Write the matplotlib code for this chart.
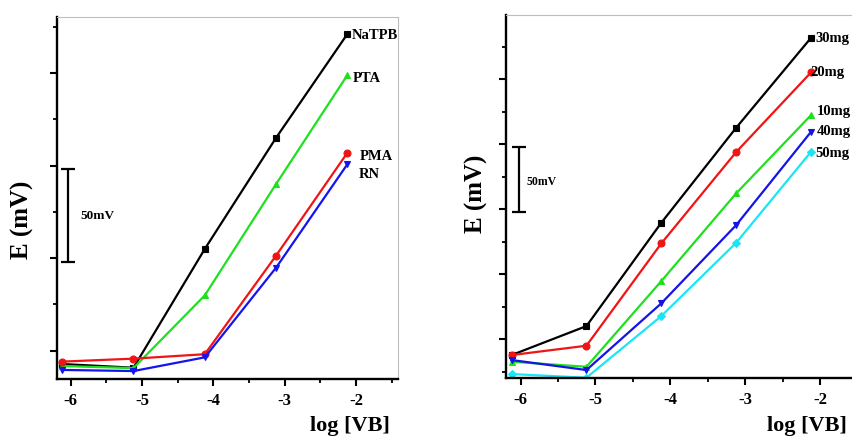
import matplotlib
matplotlib.use("Agg")
import matplotlib.pyplot as plt
from matplotlib.ticker import MultipleLocator, NullFormatter

# log [VB] concentration steps
log_vb = [-6.12, -5.12, -4.12, -3.12, -2.12]

# Left panel: electrodes with different ion exchangers (relative E, mV)
ion_names = ["NaTPB", "PTA", "PMA", "RN"]
e_natpb = [-7.2, -9.2, 55.0, 115.1, 171.2]
e_pta = [-8.3, -9.4, 29.9, 90.1, 149.0]
e_pma = [-5.9, -4.3, -1.9, 51.4, 107.0]
e_rn = [-10.4, -11.0, -3.6, 44.9, 100.8]

# Right panel: different ionophore loadings (relative E, mV)
load_names = ["30mg", "20mg", "10mg", "40mg", "50mg"]
e_30mg = [-12.1, 10.2, 89.7, 162.8, 232.0]
e_20mg = [-12.1, -4.9, 73.8, 144.1, 205.4]
e_10mg = [-17.2, -21.1, 44.8, 112.3, 172.5]
e_40mg = [-15.9, -23.6, 27.7, 87.9, 159.7]
e_50mg = [-26.7, -29.5, 17.9, 74.3, 144.3]

xtick_vals = [-6, -5, -4, -3, -2]
xtick_labels = ["-6", "-5", "-4", "-3", "-2"]
scale_mv = 50

W, H = 852, 438
fig = plt.figure(figsize=(W / 100, H / 100), dpi=100)
SERIF = "Liberation Serif"


def frac_box(x0, x1, ytop, ybot):
    return [x0 / W, 1 - ybot / H, (x1 - x0) / W, (ybot - ytop) / H]


def style_axes(ax):
    for side in ("left", "bottom"):
        ax.spines[side].set_linewidth(1.7)
        ax.spines[side].set_color("black")
    for side in ("top", "right"):
        ax.spines[side].set_linewidth(0.8)
        ax.spines[side].set_color("#bdbdbd")
    ax.xaxis.set_major_locator(MultipleLocator(1))
    ax.xaxis.set_minor_locator(MultipleLocator(0.5))
    ax.yaxis.set_major_locator(MultipleLocator(50))
    ax.yaxis.set_minor_locator(MultipleLocator(25))
    ax.set_xticks(xtick_vals)
    ax.set_xticklabels(xtick_labels)
    ax.yaxis.set_major_formatter(NullFormatter())
    ax.tick_params(which="major", direction="out", length=5, width=1.5,
                   top=False, right=False, pad=5)
    ax.tick_params(which="minor", direction="out", length=3, width=1.3,
                   top=False, right=False)
    for lab in ax.get_xticklabels():
        lab.set_fontfamily(SERIF)
        lab.set_fontweight("bold")
        lab.set_fontsize(12)


def labels(ax, box_px, xl_px, yl_px):
    x0, x1, yt, yb = box_px
    ax.set_xlabel("log [VB]", fontfamily=SERIF, fontweight="bold",
                  fontsize=16, va="center")
    ax.xaxis.set_label_coords((xl_px[0] - x0) / (x1 - x0),
                              (yb - xl_px[1]) / (yb - yt))
    ax.set_ylabel("E (mV)", fontfamily=SERIF, fontweight="bold",
                  fontsize=18, va="center")
    ax.yaxis.set_label_coords((yl_px[0] - x0) / (x1 - x0),
                              (yb - yl_px[1]) / (yb - yt))


def scale_bar(ax, x, y0, tx, ty, fs):
    ax.errorbar([x], [y0 + scale_mv / 2], yerr=[[scale_mv / 2], [scale_mv / 2]],
                fmt="none", ecolor="black", elinewidth=1.6, capsize=5,
                capthick=1.6)
    ax.text(tx, ty, f"{scale_mv}mV", fontfamily=SERIF, fontweight="bold",
            fontsize=fs, ha="left", va="center")


def end_label(ax, x, y, text, dx, dy):
    ax.annotate(text, xy=(x, y), xytext=(dx, dy), textcoords="offset pixels",
                fontfamily=SERIF, fontweight="bold", fontsize=10.5,
                ha="left", va="center")


# ---- left panel ----
box_l = (56.5, 398, 17, 379)
axl = fig.add_axes(frac_box(*box_l))
axl.set_xlim(-6.2, -1.41)
axl.set_ylim(-15.3, 180.4)
style_axes(axl)
left_series = [
    (e_natpb, "black", "s"),
    (e_pta, "#1ee01e", "^"),
    (e_pma, "#f01414", "o"),
    (e_rn, "#1414f0", "v"),
]
for (vals, col, mk), name, (dx, dy) in zip(
        left_series, ion_names, [(4, -1), (5, -3), (12, -4), (11, -10)]):
    axl.plot(log_vb, vals, color=col, lw=1.6, marker=mk, markersize=5,
             markeredgewidth=0.8, clip_on=False)
    end_label(axl, log_vb[-1], vals[-1], name, dx, dy)
scale_bar(axl, -6.039, 48, -5.87, 72.8, 9.5)
labels(axl, box_l, (350, 426), (22.7, 220))

# ---- right panel ----
box_r = (506.3, 865, 15, 377.7)
axr = fig.add_axes(frac_box(*box_r))
axr.set_xlim(-6.19, -1.4)
axr.set_ylim(-29.5, 249.5)
style_axes(axr)
right_series = [
    (e_30mg, "black", "s"),
    (e_20mg, "#f01414", "o"),
    (e_10mg, "#1ee01e", "^"),
    (e_40mg, "#1414e6", "v"),
    (e_50mg, "#19e6f5", "D"),
]
for (vals, col, mk), name, (dx, dy) in zip(
        right_series, load_names,
        [(4, -1), (-1, 0), (6, 4), (6, 0), (4, -2)]):
    axr.plot(log_vb, vals, color=col, lw=1.6, marker=mk,
             markersize=5 if mk != "D" else 4.2,
             markeredgewidth=0.8, clip_on=True)
    end_label(axr, log_vb[-1], vals[-1], name, dx, dy)
scale_bar(axr, -6.016, 98, -5.914, 121, 8.5)
labels(axr, box_r, (806.7, 426.5), (476.7, 194))

fig.savefig("out.png", dpi=100)
